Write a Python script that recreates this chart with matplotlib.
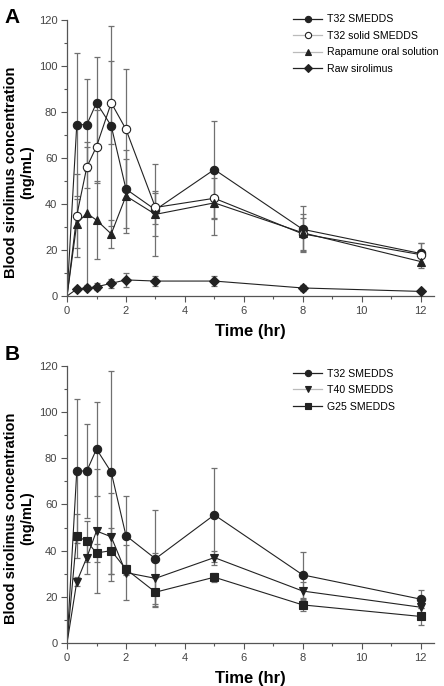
import numpy as np
import matplotlib
matplotlib.use("Agg")
import matplotlib.pyplot as plt
from matplotlib.lines import Line2D
from matplotlib.ticker import MultipleLocator

plt.rcParams["font.family"] = ["Liberation Sans", "DejaVu Sans"]

time = [0, 0.33, 0.67, 1, 1.5, 2, 3, 5, 8, 12]

# Panel A
t32_a = [0, 74.5, 74.5, 84, 74, 46.5, 37.5, 55, 29, 18.5]
t32_a_sd = [0, 31, 20, 20, 43.5, 17, 20, 21, 10, 4.5]
t32_solid = [0, 35, 56, 65, 84, 72.5, 38.5, 42.5, 27, 18]
t32_solid_sd = [0, 18, 9, 16, 18, 26, 7, 9, 7, 5]
rapamune = [0, 31.5, 36, 33, 27, 43.5, 35.5, 40.5, 27.5, 15]
rapamune_sd = [0, 10.5, 31, 17, 6, 16, 9.5, 14, 8, 3]
raw = [0, 3, 3.5, 4, 5.5, 7, 6.5, 6.5, 3.5, 2]
raw_sd = [0, 1, 1, 1.5, 2, 3, 2, 2, 1.5, 0.5]

# Panel B
t32_b = [0, 74.5, 74.5, 84, 74, 46.5, 36.5, 55.5, 29.5, 19]
t32_b_sd = [0, 31, 20.5, 20.5, 44, 17, 21, 20.5, 10, 4]
t40 = [0, 26.5, 37, 48.5, 46, 30.5, 28, 37, 22.5, 15.5]
t40_sd = [0, 2, 7, 27, 19, 12, 11, 3, 4, 2.5]
g25 = [0, 46.5, 44, 39, 40, 32, 22, 28.5, 16.5, 11.5]
g25_sd = [0, 9.5, 9, 4, 10, 2, 6, 2, 2.5, 3.5]

line_col = "#222222"
err_col = "#707070"


def draw_series(ax, y, sd, marker, filled=True, ms=6):
    ax.plot(time, y, "-", color=line_col, lw=0.8, zorder=2)
    ax.errorbar(time[1:], y[1:], yerr=sd[1:], fmt="none", ecolor=err_col,
                elinewidth=0.9, capsize=2.2, capthick=0.9, zorder=1)
    ax.plot(time[1:], y[1:], linestyle="none", marker=marker, ms=ms,
            mfc=line_col if filled else "white", mec=line_col, mew=0.8, zorder=3)


def style_axes(ax):
    ax.set_xlim(0, 12.45)
    ax.set_ylim(0, 120)
    for s in ["top", "right"]:
        ax.spines[s].set_visible(False)
    for s in ["left", "bottom"]:
        ax.spines[s].set_color("#555555")
        ax.spines[s].set_linewidth(0.9)
    ax.xaxis.set_major_locator(MultipleLocator(2))
    ax.xaxis.set_minor_locator(MultipleLocator(1))
    ax.yaxis.set_major_locator(MultipleLocator(20))
    ax.yaxis.set_minor_locator(MultipleLocator(10))
    ax.tick_params(which="major", direction="out", length=4, width=0.8,
                   color="#555555", labelsize=8, labelcolor="#444444", pad=3)
    ax.tick_params(which="minor", direction="out", length=2, width=0.8, color="#555555")
    ax.set_xlabel("Time (hr)", fontsize=12, fontweight="bold", labelpad=6)
    ax.set_ylabel("Blood sirolimus concentration\n(ng/mL)", fontsize=10.5,
                  fontweight="bold")
    ax.yaxis.set_label_coords(-0.09, 0.45)


def handle(marker, filled, line_color):
    return Line2D([0], [0], color=line_color, lw=0.9, marker=marker, ms=4.5,
                  mfc=line_col if filled else "white", mec=line_col, mew=0.8)


fig = plt.figure(figsize=(4.44, 6.86), dpi=100)
ax1 = fig.add_axes([0.151, 0.5685, 0.826, 0.4023])
ax2 = fig.add_axes([0.151, 0.0627, 0.826, 0.4038])

draw_series(ax1, t32_a, t32_a_sd, "o")
draw_series(ax1, t32_solid, t32_solid_sd, "o", filled=False)
draw_series(ax1, rapamune, rapamune_sd, "^")
draw_series(ax1, raw, raw_sd, "D", ms=5)
style_axes(ax1)
ax1.legend([handle("o", True, line_col), handle("o", False, "#bbbbbb"),
            handle("^", True, "#bbbbbb"), handle("D", True, line_col)],
           ["T32 SMEDDS", "T32 solid SMEDDS", "Rapamune oral solution", "Raw sirolimus"],
           loc="upper left", bbox_to_anchor=(0.59, 1.055), frameon=False,
           fontsize=7.6, handlelength=2.8, handletextpad=0.45, labelspacing=0.62)

draw_series(ax2, t32_b, t32_b_sd, "o")
draw_series(ax2, t40, t40_sd, "v")
draw_series(ax2, g25, g25_sd, "s", ms=5.5)
style_axes(ax2)
ax2.legend([handle("o", True, line_col), handle("v", True, "#bbbbbb"),
            handle("s", True, line_col)],
           ["T32 SMEDDS", "T40 SMEDDS", "G25 SMEDDS"],
           loc="upper left", bbox_to_anchor=(0.59, 1.025), frameon=False,
           fontsize=7.6, handlelength=2.8, handletextpad=0.45, labelspacing=0.62)

fig.text(0.01, 0.975, "A", fontsize=15, fontweight="bold", va="center")
fig.text(0.01, 0.483, "B", fontsize=15, fontweight="bold", va="center")

fig.savefig("out.png", dpi=100)
